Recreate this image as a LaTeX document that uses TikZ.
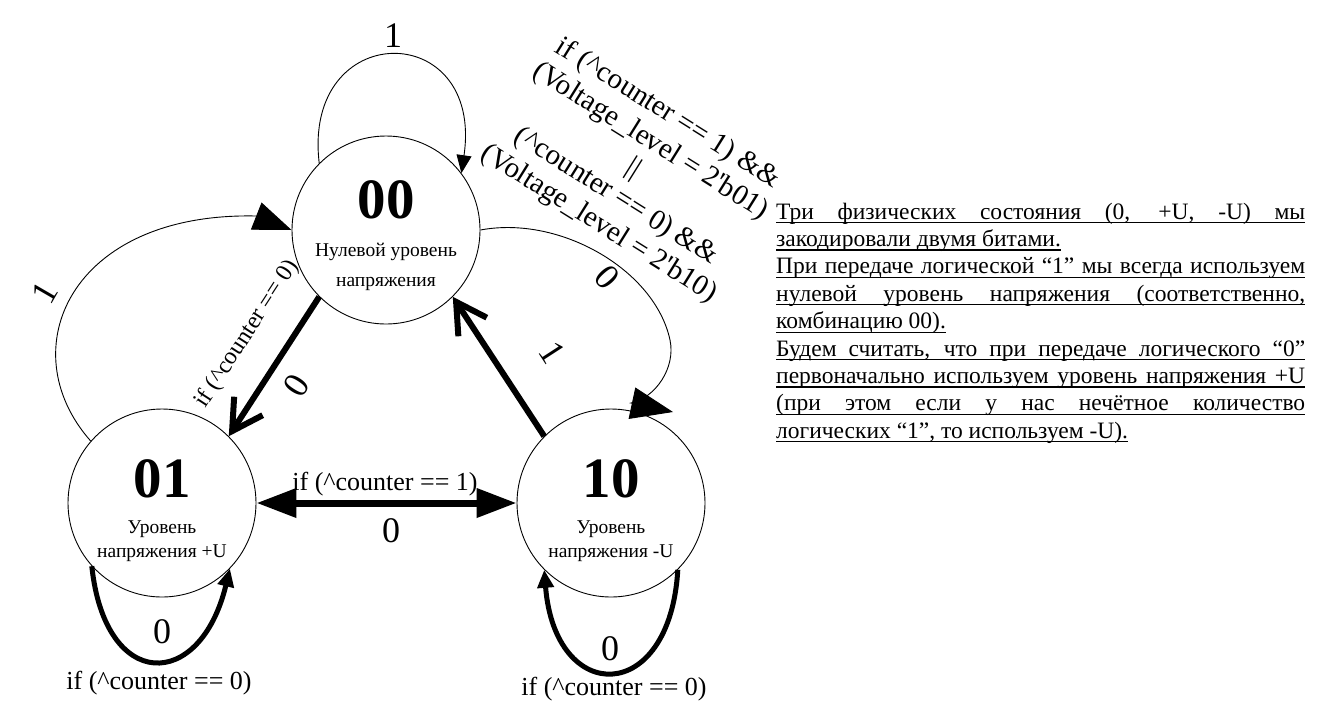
\documentclass[tikz,border=0pt]{standalone}
\usepackage{fontspec}
\setmainfont{Liberation Serif}
\usetikzlibrary{arrows.meta}
\begin{document}
\begin{tikzpicture}[x=1pt,y=-1pt,
  state/.style={circle, draw, line width=0.9pt, minimum size=188pt, inner sep=0pt},
  bignum/.style={font=\fontsize{57}{60}\selectfont\bfseries, inner sep=0pt},
  smalltxt/.style={font=\fontsize{19.5}{22}\selectfont, inner sep=0pt},
  lbl/.style={font=\fontsize{36}{40}\selectfont, inner sep=0pt},
  cond/.style={font=\fontsize{26}{30}\selectfont, inner sep=0pt},
  para/.style={font=\fontsize{23.5}{27}\selectfont, inner sep=0pt, anchor=base west},
  thinarc/.style={line width=0.9pt},
  thickarr/.style={line width=6pt, -{Straight Barb[length=30pt,width=34pt]}},
  loopthick/.style={line width=5pt, -{Triangle[length=18pt,width=16pt]}},
  uline/.style={line width=1.2pt}
]
\useasboundingbox (0,0) rectangle (1324,716);

% states
\node[state] (s00) at (386,230) {};
\node[state] (s01) at (162,503) {};
\node[state] (s10) at (611,503) {};

\node[bignum, anchor=base] (t00) at (386,218) {00};
\node[smalltxt, anchor=base] (d00a) at (386,256) {Нулевой уровень};
\node[smalltxt, anchor=base] (d00b) at (386,286) {напряжения};

\node[bignum, anchor=base] (t01) at (162,497) {01};
\node[smalltxt, anchor=base] (d01a) at (162,533) {Уровень};
\node[smalltxt, anchor=base] (d01b) at (162,557) {напряжения +U};

\node[bignum, anchor=base] (t10) at (611,497) {10};
\node[smalltxt, anchor=base] (d10a) at (611,533) {Уровень};
\node[smalltxt, anchor=base] (d10b) at (611,557) {напряжения -U};

% self loop on 00
\draw[thinarc, -{Triangle[length=18pt,width=15pt]}] (s00.135) .. controls (302,18) and (484,18) .. (s00.37);
\node[lbl, anchor=base] (l00) at (393,47) {1};

% 01 -> 00 thin curve
\draw[thinarc, -{Triangle[length=38pt,width=29pt]}] (s01.139) .. controls (10,350) and (70,212) .. (256,216) -- (s00.west);
\node[lbl, rotate=60] (l0100) at (45,293) {1};

% 00 -> 10 thin curve
\coordinate (tip10) at (673,412);
\draw[thinarc, -{Triangle[length=42pt,width=32pt]}] (s00.east) .. controls (560,215) and (655,270) .. (670,340) .. controls (676,368) and (655,398) .. (631,403) -- (tip10);
\node[lbl, rotate=-48] (l0010) at (607,277) {0};

% condition block
\node[font=\fontsize{29}{32.5}\selectfont, align=center, rotate=-32, inner sep=0pt] (cblock) at (633,169)
  {if (\textasciicircum counter == 1) \&\&\\(Voltage\_level = 2\textquotesingle b01)\\||\\(\textasciicircum counter == 0) \&\&\\(Voltage\_level = 2\textquotesingle b10)};

% thick straight arrows
\draw[thickarr] (s00.225) -- (s01.45);
\node[cond, font=\fontsize{24}{28}\selectfont, rotate=57] (c0001) at (247,334) {if (\textasciicircum counter == 0)};
\node[lbl, rotate=57] (l0001) at (297,386) {0};

\draw[thickarr] (s10.135) -- (s00.315);
\node[lbl, rotate=-57] (l1000) at (552,353) {1};

% double arrow
\draw[line width=7pt, {Triangle[length=40pt,width=28pt]}-{Triangle[length=40pt,width=28pt]}] (s01.east) -- (s10.west);
\node[cond, anchor=base] (c0110) at (385,490) {if (\textasciicircum counter == 1)};
\node[lbl, anchor=base] (l0110) at (391,542) {0};

% thick self loops
\draw[loopthick] (s01.222) .. controls (105,692) and (200,692) .. (s01.316);
\node[lbl, anchor=base] (l01) at (162,643) {0};
\node[cond, anchor=base] (c01) at (159,689) {if (\textasciicircum counter == 0)};

\draw[loopthick] (s10.315) .. controls (670,706) and (555,706) .. (s10.225);
\node[lbl, anchor=base] (l10) at (610,660) {0};
\node[cond, anchor=base] (c10) at (614,695) {if (\textasciicircum counter == 0)};

% explanatory text
\node[para] (p1) at (776,219) {\makebox[529pt][s]{Три физических состояния (0, +U, -U) мы}};
\node[para] (p2) at (776,246.4) {закодировали двумя битами.};
\node[para] (p3) at (776,273.8) {\makebox[529pt][s]{При передаче логической “1” мы всегда используем}};
\node[para] (p4) at (776,301.2) {\makebox[529pt][s]{нулевой уровень напряжения (соответственно,}};
\node[para] (p5) at (776,328.6) {комбинацию 00).};
\node[para] (p6) at (776,356) {\makebox[529pt][s]{Будем считать, что при передаче логического “0”}};
\node[para] (p7) at (776,383.4) {\makebox[529pt][s]{первоначально используем уровень напряжения +U}};
\node[para] (p8) at (776,410.8) {\makebox[529pt][s]{(при этом если у нас нечётное количество}};
\node[para] (p9) at (776,438.2) {логических “1”, то используем -U).};
\foreach \p in {p1,p2,p3,p4,p5,p6,p7,p8,p9}
  \draw[uline] ([yshift=-3.5pt]\p.base west) -- ([yshift=-3.5pt]\p.base east);
\end{tikzpicture}
\end{document}
